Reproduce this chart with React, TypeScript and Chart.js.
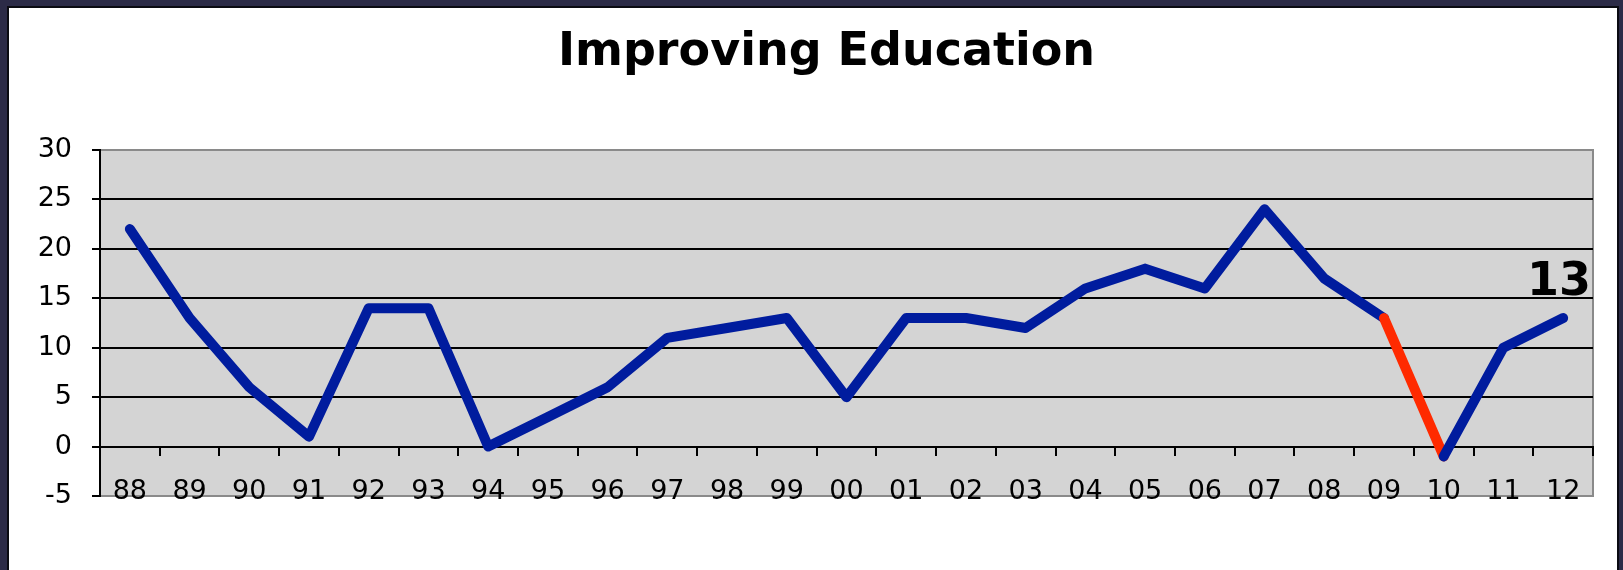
import React, { useEffect, useRef } from 'react';
import { Chart, registerables } from 'chart.js';

Chart.register(...registerables);

const TITLE = 'Improving Education';
const YEARS = ['88', '89', '90', '91', '92', '93', '94', '95', '96', '97', '98', '99', '00', '01', '02', '03', '04', '05', '06', '07', '08', '09', '10', '11', '12'];
const VALUES = [22, 13, 6, 1, 14, 14, 0, 3, 6, 11, 12, 13, 5, 13, 13, 12, 16, 18, 16, 24, 17, 13, -1, 10, 13];
const Y_MIN = -5;
const Y_MAX = 30;
const Y_STEP = 5;
const HIGHLIGHT_SEGMENT_START = 21; // segment 09 -> 10

const FONT = 'DejaVu Sans';
const LINE_BLUE = '#001c9e';
const LINE_RED = '#ff2a00';

const decor = {
  id: 'decor',
  beforeDraw(chart: any) {
    const { ctx, chartArea: a } = chart;
    ctx.save();
    ctx.fillStyle = '#d4d4d4';
    ctx.fillRect(a.left, a.top, a.right - a.left, a.bottom - a.top);
    ctx.strokeStyle = '#8a8a8a';
    ctx.lineWidth = 2;
    ctx.beginPath();
    ctx.moveTo(a.left, a.top);
    ctx.lineTo(a.right, a.top);
    ctx.lineTo(a.right, a.bottom);
    ctx.lineTo(a.left, a.bottom);
    ctx.stroke();
    ctx.restore();
  },
  afterDatasetsDraw(chart: any) {
    const { ctx, chartArea: a } = chart;
    const meta = chart.getDatasetMeta(0);
    const last = meta.data[meta.data.length - 1];
    ctx.save();
    ctx.fillStyle = '#000';
    ctx.font = `bold 46px "${FONT}"`;
    ctx.textAlign = 'right';
    ctx.textBaseline = 'alphabetic';
    ctx.fillText(String(VALUES[VALUES.length - 1]), a.right - 2, last.y - 23);
    ctx.font = `bold 46px "${FONT}"`;
    ctx.textAlign = 'center';
    ctx.fillText(TITLE, (a.left + a.right) / 2 - 20, 65);
    ctx.restore();
  },
};

export default function App() {
  const ref = useRef<HTMLCanvasElement>(null);

  useEffect(() => {
    const chart = new Chart(ref.current as HTMLCanvasElement, {
      type: 'line',
      data: {
        labels: YEARS,
        datasets: [
          {
            data: VALUES,
            borderColor: LINE_BLUE,
            borderWidth: 10,
            pointRadius: 0,
            tension: 0,
            borderCapStyle: 'round',
            borderJoinStyle: 'round',
            segment: {
              borderColor: (c: any) => (c.p0DataIndex === HIGHLIGHT_SEGMENT_START ? LINE_RED : undefined),
            },
          } as any,
        ],
      },
      options: {
        responsive: false,
        animation: false,
        devicePixelRatio: 1,
        layout: { padding: { top: 150, right: 30, bottom: 74, left: 0 } },
        plugins: { legend: { display: false }, tooltip: { enabled: false }, title: { display: false } },
        scales: {
          x: {
            type: 'category',
            position: { y: 0 } as any,
            offset: true,
            grid: {
              offset: true,
              drawOnChartArea: false,
              drawTicks: true,
              tickLength: 8,
              color: '#000',
              lineWidth: 2,
            },
            border: { display: true, color: '#000', width: 2 },
            ticks: {
              font: { family: FONT, size: 27 },
              color: '#000',
              padding: 21,
              maxRotation: 0,
              autoSkip: false,
            },
          },
          y: {
            min: Y_MIN,
            max: Y_MAX,
            ticks: {
              stepSize: Y_STEP,
              font: { family: FONT, size: 27 },
              color: '#000',
              padding: 20,
            },
            grid: {
              color: (c: any) =>
                c.tick && (c.tick.value === Y_MIN || c.tick.value === Y_MAX) ? 'rgba(0,0,0,0)' : '#000',
              lineWidth: 2,
              tickColor: '#000',
              tickLength: 8,
            },
            border: { display: true, color: '#000', width: 2 },
            afterFit: (s: any) => {
              s.width = 100;
            },
          },
        },
      },
      plugins: [decor],
    });
    return () => chart.destroy();
  }, []);

  return (
    <div style={{ position: 'fixed', inset: 0, background: '#2c2b47', overflow: 'hidden' }}>
      <div
        style={{
          position: 'absolute',
          left: 7,
          top: 6,
          width: 1612,
          height: 620,
          boxSizing: 'border-box',
          border: '2px solid #0b0b12',
          background: '#ffffff',
        }}
      />
      <canvas
        ref={ref}
        width={1623}
        height={570}
        style={{ position: 'absolute', left: 0, top: 0, width: 1623, height: 570 }}
      />
    </div>
  );
}
